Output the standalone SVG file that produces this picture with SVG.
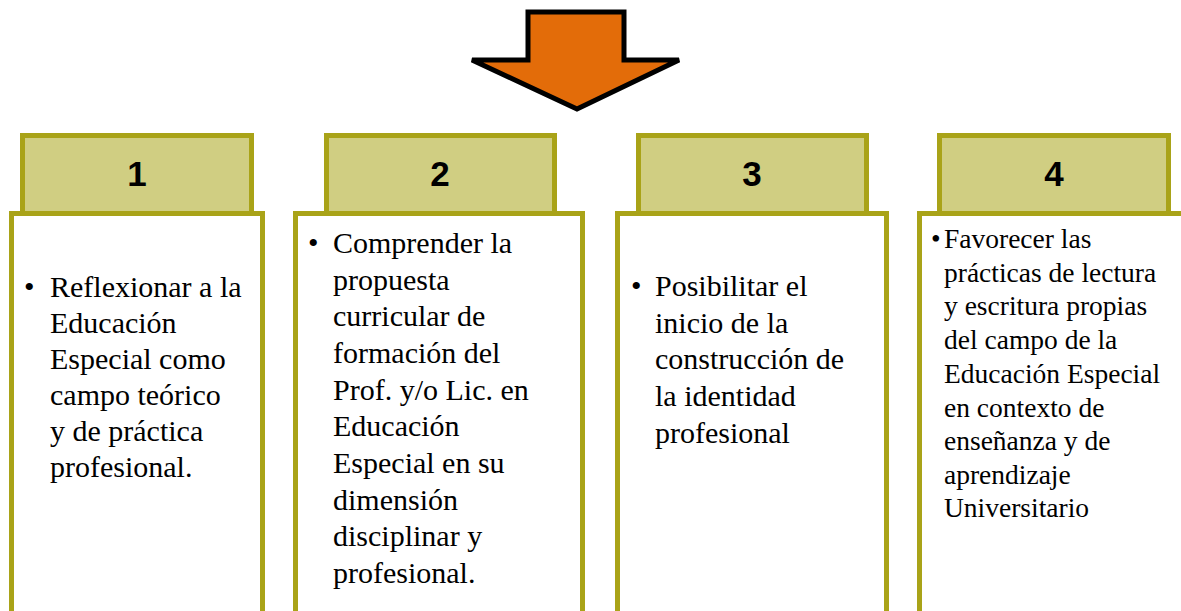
<svg xmlns="http://www.w3.org/2000/svg" width="1181" height="611" viewBox="0 0 1181 611">
<style>
.hdr{fill:#D0CE82;stroke:#A9A318;stroke-width:5}
.box{fill:#FFFFFF;stroke:#A9A318;stroke-width:5}
.num{font-family:'Liberation Sans',Arial,sans-serif;font-weight:bold;font-size:35px;fill:#000;text-anchor:middle}
.t{font-family:'Liberation Serif','Times New Roman','Noto Serif','DejaVu Serif',Tinos,Times,'Nimbus Roman','FreeSerif',Georgia,serif;font-size:30px;fill:#000}
.t4{font-family:'Liberation Serif','Times New Roman','Noto Serif','DejaVu Serif',Tinos,Times,'Nimbus Roman','FreeSerif',Georgia,serif;font-size:27.5px;fill:#000}
</style>
<rect width="1181" height="611" fill="#FFFFFF"/>
<g id="arrow">
<polygon points="528,12 624,12 624,60 679,60 577,109 472,60 528,60" fill="#E36C09" stroke="#000" stroke-width="5" stroke-linejoin="miter"/>
</g>
<g id="node1">
<rect class="hdr" x="22.5" y="135.5" width="229" height="90"/>
<rect class="box" x="11.5" y="213.5" width="251" height="420"/>
<text class="num" x="137" y="186">1</text>
<text class="t" x="24" y="297">•</text>
<text class="t"><tspan x="50" y="297">Reflexionar a la</tspan><tspan x="50" y="333">Educación</tspan><tspan x="50" y="369">Especial como</tspan><tspan x="50" y="405">campo teórico</tspan><tspan x="50" y="441">y de práctica</tspan><tspan x="50" y="477">profesional.</tspan></text>
</g>
<g id="node2">
<rect class="hdr" x="326.5" y="135.5" width="228" height="90"/>
<rect class="box" x="295.5" y="213.5" width="287" height="420"/>
<text class="num" x="440" y="186">2</text>
<text class="t" x="308" y="253">•</text>
<text class="t"><tspan x="333" y="253">Comprender la</tspan><tspan x="333" y="290">propuesta</tspan><tspan x="333" y="326">curricular de</tspan><tspan x="333" y="363">formación del</tspan><tspan x="333" y="400">Prof. y/o Lic. en</tspan><tspan x="333" y="436">Educación</tspan><tspan x="333" y="473">Especial en su</tspan><tspan x="333" y="510">dimensión</tspan><tspan x="333" y="546">disciplinar y</tspan><tspan x="333" y="583">profesional.</tspan></text>
</g>
<g id="node3">
<rect class="hdr" x="638.5" y="135.5" width="228" height="90"/>
<rect class="box" x="617.5" y="213.5" width="269" height="420"/>
<text class="num" x="752" y="186">3</text>
<text class="t" x="631" y="296">•</text>
<text class="t"><tspan x="655" y="296">Posibilitar el</tspan><tspan x="655" y="333">inicio de la</tspan><tspan x="655" y="369">construcción de</tspan><tspan x="655" y="406">la identidad</tspan><tspan x="655" y="443">profesional</tspan></text>
</g>
<g id="node4">
<rect class="hdr" x="939.5" y="135.5" width="229" height="90"/>
<rect class="box" x="919.5" y="213.5" width="280" height="420"/>
<text class="num" x="1054" y="186">4</text>
<text class="t4" x="931" y="248">•</text>
<text class="t4"><tspan x="944" y="248">Favorecer las</tspan><tspan x="944" y="282">prácticas de lectura</tspan><tspan x="944" y="315">y escritura propias</tspan><tspan x="944" y="349">del campo de la</tspan><tspan x="944" y="383">Educación Especial</tspan><tspan x="944" y="417">en contexto de</tspan><tspan x="944" y="450">enseñanza y de</tspan><tspan x="944" y="484">aprendizaje</tspan><tspan x="944" y="517">Universitario</tspan></text>
</g>
<g id="connectors"></g>
</svg>
